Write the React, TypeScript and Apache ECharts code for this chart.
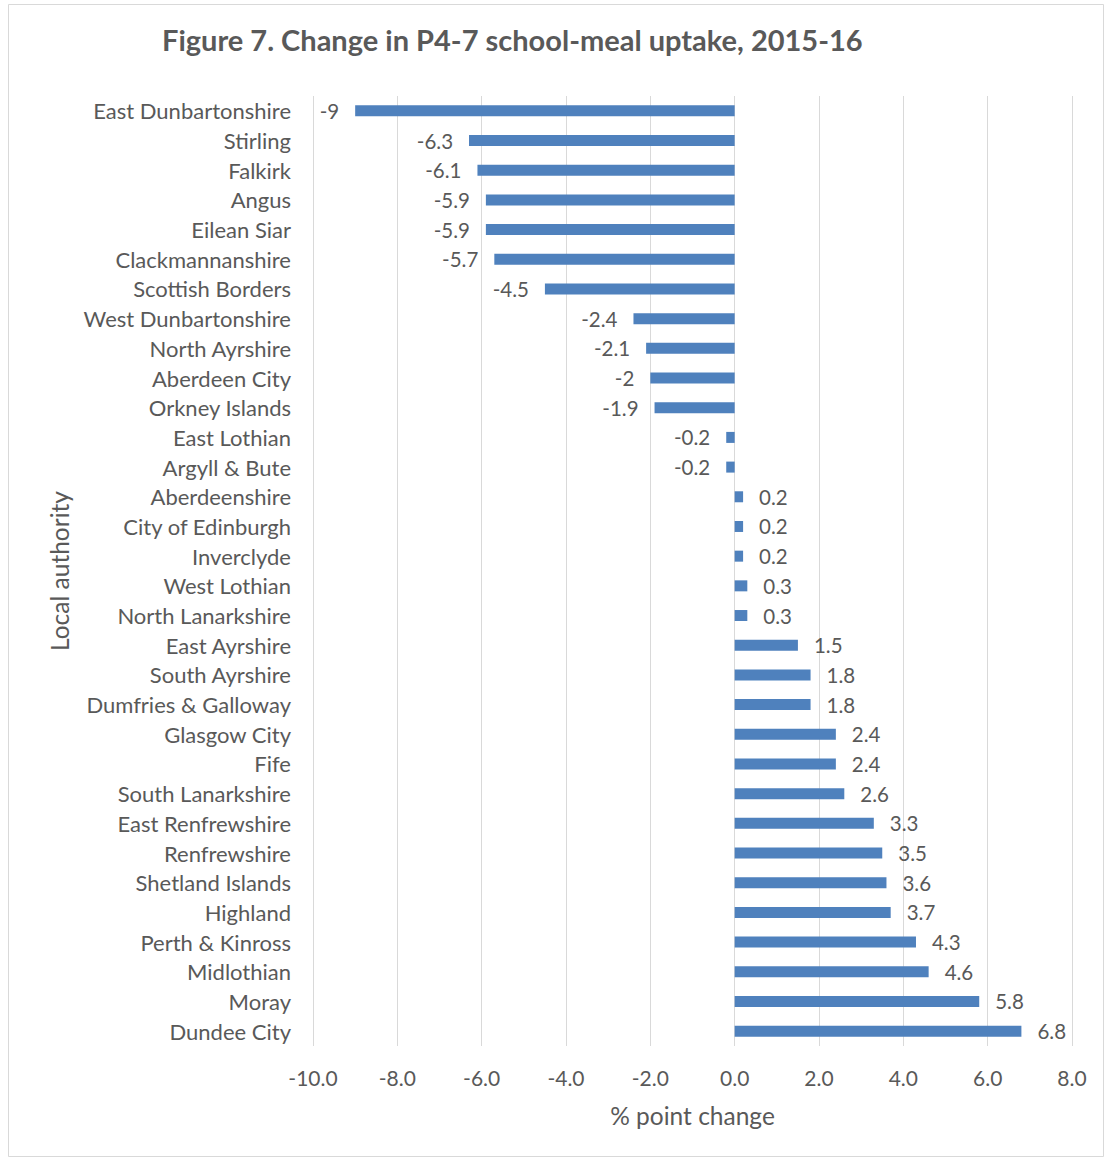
import React, { useEffect, useRef } from "react";
import * as echarts from "echarts";

// Local authorities, top to bottom
const authorities: string[] = [
  "East Dunbartonshire",
  "Stirling",
  "Falkirk",
  "Angus",
  "Eilean Siar",
  "Clackmannanshire",
  "Scottish Borders",
  "West Dunbartonshire",
  "North Ayrshire",
  "Aberdeen City",
  "Orkney Islands",
  "East Lothian",
  "Argyll & Bute",
  "Aberdeenshire",
  "City of Edinburgh",
  "Inverclyde",
  "West Lothian",
  "North Lanarkshire",
  "East Ayrshire",
  "South Ayrshire",
  "Dumfries & Galloway",
  "Glasgow City",
  "Fife",
  "South Lanarkshire",
  "East Renfrewshire",
  "Renfrewshire",
  "Shetland Islands",
  "Highland",
  "Perth & Kinross",
  "Midlothian",
  "Moray",
  "Dundee City",
];

// Percentage-point change in uptake, 2015 to 2016
const changes: number[] = [
  -9, -6.3, -6.1, -5.9, -5.9, -5.7, -4.5, -2.4, -2.1, -2, -1.9, -0.2, -0.2,
  0.2, 0.2, 0.2, 0.3, 0.3, 1.5, 1.8, 1.8, 2.4, 2.4, 2.6, 3.3, 3.5, 3.6, 3.7,
  4.3, 4.6, 5.8, 6.8,
];

const xMin = -10;
const xMax = 8;
const xStep = 2;

const FONT = "Lato, 'Open Sans', sans-serif";
const TEXT = "#595959";

export default function App() {
  const ref = useRef<HTMLDivElement>(null);

  useEffect(() => {
    if (!ref.current) return;
    const chart = echarts.init(ref.current, undefined, { renderer: "svg" });
    chart.setOption({
      animation: false,
      backgroundColor: "#ffffff",
      title: {
        text: "Figure 7. Change in P4-7 school-meal uptake, 2015-16",
        left: 157,
        top: 20,
        textStyle: {
          fontFamily: FONT,
          fontSize: 29,
          fontWeight: "bold",
          color: TEXT,
        },
      },
      graphic: [
        {
          type: "rect",
          shape: { x: 8.5, y: 4.5, width: 1095, height: 1152 },
          style: { fill: "none", stroke: "#d9d9d9", lineWidth: 1 },
          silent: true,
        },
      ],
      grid: { left: 313, right: 38, top: 96, bottom: 114, containLabel: false },
      xAxis: {
        type: "value",
        min: xMin,
        max: xMax,
        interval: xStep,
        name: "% point change",
        nameLocation: "middle",
        nameGap: 57,
        nameTextStyle: { fontFamily: FONT, fontSize: 24.5, color: TEXT },
        axisLine: { show: false },
        axisTick: { show: false },
        axisLabel: {
          margin: 21,
          fontFamily: FONT,
          fontSize: 21,
          color: TEXT,
          formatter: (v: number) => v.toFixed(1),
        },
        splitLine: { show: true, lineStyle: { color: "#d9d9d9", width: 1 } },
      },
      yAxis: {
        type: "category",
        data: authorities,
        inverse: true,
        name: "Local authority",
        nameLocation: "middle",
        nameGap: 241,
        nameRotate: 90,
        nameTextStyle: { fontFamily: FONT, fontSize: 24.5, color: TEXT },
        axisLine: { show: false },
        axisTick: { show: false },
        axisLabel: {
          margin: 22,
          fontFamily: FONT,
          fontSize: 22,
          color: TEXT,
        },
        splitLine: { show: false },
      },
      series: [
        {
          type: "bar",
          data: changes.map((v) => ({
            value: v,
            label: {
              show: true,
              position: v < 0 ? "left" : "right",
              distance: 16,
              formatter: String(v),
              fontFamily: FONT,
              fontSize: 20.5,
              color: TEXT,
            },
          })),
          barWidth: 11,
          itemStyle: { color: "#4f81bd" },
        },
      ],
    });
    return () => chart.dispose();
  }, []);

  return (
    <div
      ref={ref}
      style={{ position: "absolute", left: 0, top: 0, width: 1110, height: 1160 }}
    />
  );
}
